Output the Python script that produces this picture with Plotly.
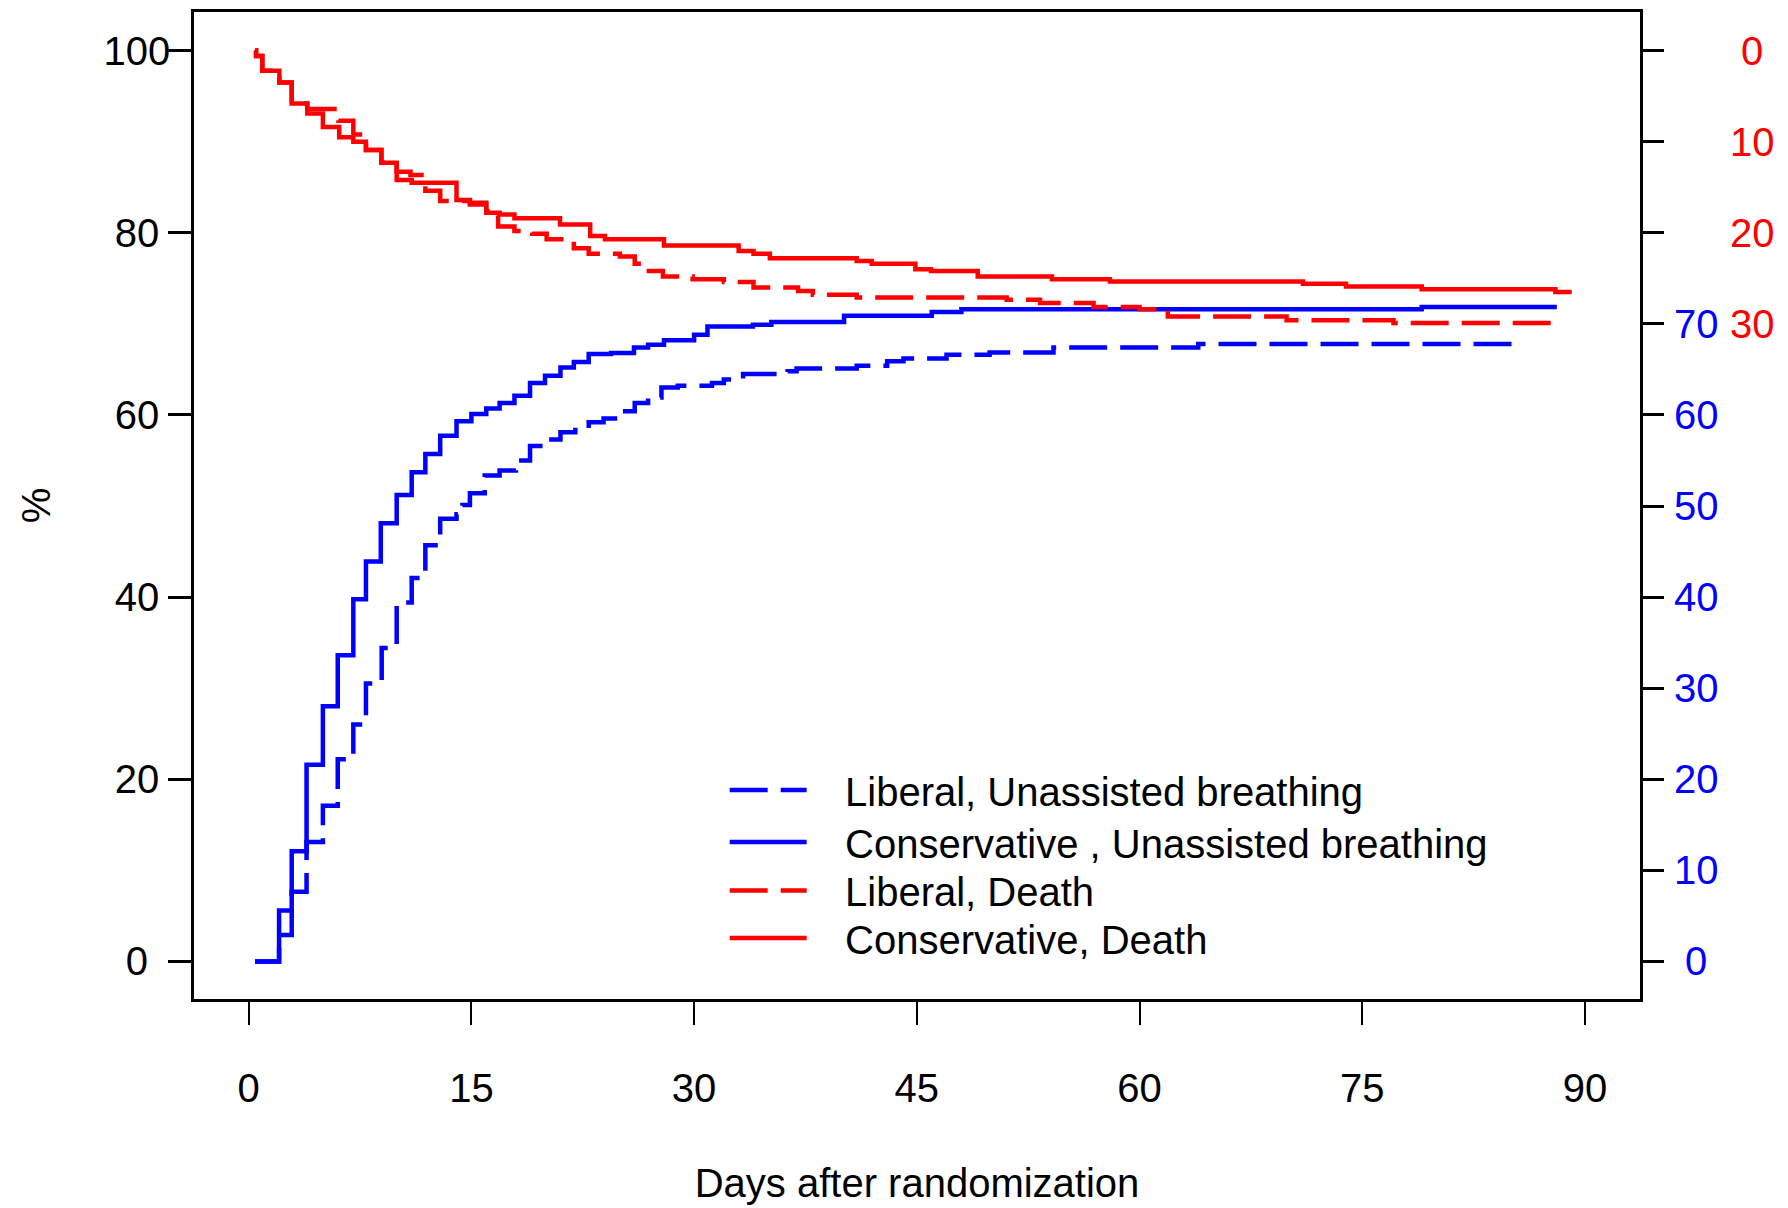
import plotly.graph_objects as go

# ---------------- data ----------------
# Conservative, Unassisted breathing (solid blue) - step times (days) and cumulative %
cons_ub_t = [0.43, 2.05, 2.9, 3.9, 5.0, 6.0, 7.05, 7.9, 8.9, 9.97, 10.98, 11.9, 12.9, 14.0, 15.0,
             16.0, 16.9, 17.9, 18.95, 19.96, 21.0, 21.9, 22.9, 24.4, 25.95, 26.9, 27.97, 30.0,
             30.9, 33.96, 35.2, 40.1, 46.0, 48.0, 79.0, 88.1]
cons_ub_v = [0.0, 5.6, 12.1, 21.6, 28.0, 33.6, 39.75, 43.9, 48.1, 51.2, 53.7, 55.7, 57.7, 59.3, 60.1,
             60.7, 61.3, 62.1, 63.5, 64.3, 65.2, 65.8, 66.7, 66.8, 67.4, 67.7, 68.2, 68.8,
             69.7, 69.9, 70.2, 70.9, 71.3, 71.6, 71.85, 71.85]

# Liberal, Unassisted breathing (dashed blue)
lib_ub_t = [0.43, 2.05, 2.9, 3.9, 5.0, 6.0, 7.05, 7.9, 8.96, 9.97, 10.98, 11.9, 12.9, 14.0, 14.4,
            14.9, 15.9, 16.9, 18.0, 18.95, 20.0, 21.0, 22.0, 22.9, 23.9, 25.0, 26.0, 26.9, 27.8,
            28.9, 31.2, 32.0, 33.3, 36.3, 36.9, 40.95, 43.0, 44.1, 47.0, 49.9, 54.2, 63.95, 85.5]
lib_ub_v = [0.0, 2.9, 7.65, 13.1, 17.1, 22.2, 26.0, 30.5, 34.4, 39.4, 42.1, 45.7, 48.6, 49.1, 50.1,
            51.4, 53.35, 53.9, 55.0, 56.6, 57.3, 58.1, 58.8, 59.2, 59.6, 60.4, 61.3, 61.9, 63.0,
            63.2, 63.5, 63.9, 64.5, 64.8, 65.1, 65.4, 65.9, 66.2, 66.6, 66.85, 67.4, 67.8, 67.8]

# Liberal, Death (dashed red) - % alive
lib_d_t = [0.43, 0.5, 0.92, 2.07, 2.9, 3.95, 6.05, 7.05, 7.9, 8.94, 9.97, 10.9, 11.9, 12.9, 14.9,
           16.0, 16.8, 17.9, 19.1, 20.07, 21.9, 22.9, 25.0, 26.0, 26.8, 27.9, 29.9, 32.0, 34.0,
           37.0, 38.0, 40.95, 51.05, 53.3, 56.9, 60.0, 61.9, 69.9, 77.1, 88.0]
lib_d_v = [100.0, 99.4, 97.8, 96.5, 94.2, 93.6, 92.3, 90.8, 89.1, 87.7, 86.7, 86.35, 84.6, 83.5, 83.1,
           82.4, 80.7, 80.2, 79.9, 79.3, 78.3, 77.7, 77.4, 76.6, 75.8, 75.2, 74.9, 74.6, 74.0,
           73.6, 73.2, 72.9, 72.65, 72.3, 71.85, 71.6, 70.8, 70.4, 70.1, 69.85]

# Conservative, Death (solid red) - % alive
cons_d_t = [0.43, 0.5, 0.92, 2.07, 2.9, 3.95, 5.0, 6.1, 7.05, 7.9, 8.94, 9.97, 10.98, 14.0, 14.9,
            16.0, 16.9, 17.9, 20.97, 23.0, 24.0, 27.97, 33.0, 34.0, 35.1, 40.95, 41.96, 44.9,
            45.95, 49.1, 54.1, 58.0, 71.0, 73.9, 79.0, 88.0, 89.1]
cons_d_v = [100.0, 99.4, 97.8, 96.5, 94.2, 93.1, 91.6, 90.5, 90.0, 89.1, 87.7, 85.8, 85.5, 83.6, 83.3,
            82.2, 82.0, 81.6, 80.9, 79.65, 79.3, 78.6, 78.0, 77.7, 77.2, 76.9, 76.6, 76.0,
            75.8, 75.2, 74.9, 74.65, 74.4, 74.1, 73.8, 73.5, 73.5]

series_names = ["Liberal, Unassisted breathing", "Conservative , Unassisted breathing",
                "Liberal, Death", "Conservative, Death"]

x_ticks = [0, 15, 30, 45, 60, 75, 90]
left_ticks = [0, 20, 40, 60, 80, 100]
left_labels = ["0\u2007", "20\u2008", "40\u2008", "60\u2008", "80\u2008", "100"]
right_ticks = [0, 10, 20, 30, 40, 50, 60, 70, 80, 90, 100]
blue_labels = ["\u20080", "10", "20", "30", "40", "50", "60", "70", "", "", ""]
red_ticks = [70, 80, 90, 100]
red_labels = ["30", "20", "10", "\u20080"]

BLUE = "#0000FF"
RED = "#FF0000"
FONT = "Liberation Sans, Arial, sans-serif"
LW = 4.5
DASH = "38px,13px"
PAD = "\u00a0\u00a0\u00a0"

styles = [(BLUE, DASH), (BLUE, "solid"), (RED, DASH), (RED, "solid")]
data = [(lib_ub_t, lib_ub_v), (cons_ub_t, cons_ub_v), (lib_d_t, lib_d_v), (cons_d_t, cons_d_v)]
legend_ids = ["legend", "legend2", "legend3", "legend4"]
legend_y = [0.2447, 0.1921, 0.1429, 0.0948]

fig = go.Figure()
for (t, v), (col, dash), name, lid in zip(data, styles, series_names, legend_ids):
    fig.add_trace(go.Scatter(x=t, y=v, mode="lines", line_shape="hv",
                             line=dict(color=col, width=LW, dash=dash),
                             name=PAD + name, legend=lid))
# invisible helper traces to activate right-hand axes
fig.add_trace(go.Scatter(x=[None], y=[None], yaxis="y2", showlegend=False, hoverinfo="skip"))
fig.add_trace(go.Scatter(x=[None], y=[None], yaxis="y3", showlegend=False, hoverinfo="skip"))

yr = [-4.13, 104.24]
legends = {}
for lid, ly in zip(legend_ids, legend_y):
    legends[lid] = dict(x=0.367, y=ly, xanchor="left", yanchor="top",
                        bgcolor="rgba(0,0,0,0)", font=dict(size=40, family=FONT),
                        itemwidth=77)

fig.update_layout(
    width=1788, height=1208,
    margin=dict(l=194, r=148, t=9, b=203),
    paper_bgcolor="white", plot_bgcolor="white",
    font=dict(family=FONT, size=40, color="black"),
    showlegend=True,
    **legends,
    xaxis=dict(range=[-3.68, 93.7], tickvals=x_ticks, ticks="outside", ticklen=23,
               tickwidth=1.5, tickcolor="black", showline=True, linecolor="black",
               linewidth=2.5, mirror=True, showgrid=False, zeroline=False,
               ticklabelstandoff=29,
               title=dict(text="Days after randomization", standoff=61,
                          font=dict(size=40))),
    yaxis=dict(range=yr, tickvals=left_ticks, ticktext=left_labels, ticks="outside",
               ticklen=23, tickwidth=2.5, tickcolor="black", showline=True,
               linecolor="black", linewidth=2.5, mirror=True, showgrid=False,
               zeroline=False, ticklabelstandoff=-10,
               title=dict(text="%", standoff=41, font=dict(size=40))),
    yaxis2=dict(range=yr, overlaying="y", side="right", anchor="x",
                tickvals=right_ticks, ticktext=blue_labels, ticks="outside", ticklen=23,
                tickwidth=2.5, tickcolor="black", showline=False, showgrid=False,
                zeroline=False, tickfont=dict(color=BLUE, size=40), ticklabelstandoff=2),
    yaxis3=dict(range=yr, overlaying="y", side="right", anchor="x",
                tickvals=red_ticks, ticktext=red_labels, ticks="", showline=False,
                showgrid=False, zeroline=False, tickfont=dict(color=RED, size=40),
                ticklabelstandoff=89),
)

fig.write_html("out.html")
